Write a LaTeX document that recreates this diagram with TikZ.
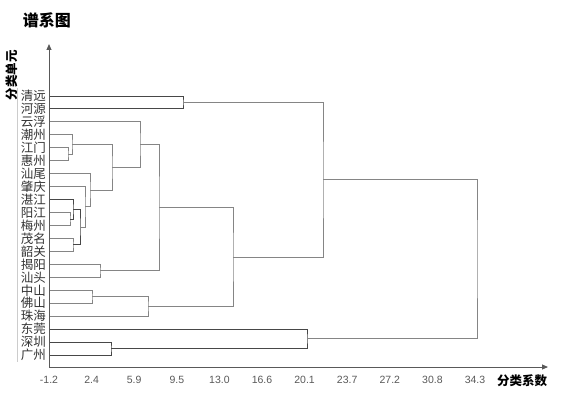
\documentclass[tikz,border=0pt]{standalone}
\usepackage{fontspec}
\setmainfont{Liberation Sans}
\newfontfamily\cjk{Noto Sans CJK SC}
\usetikzlibrary{arrows.meta}

\begin{document}
\begin{tikzpicture}[
    x=1pt, y=-1pt,
    leaf/.style={anchor=east, inner sep=0pt, font=\cjk\fontsize{12.5}{13}\selectfont, text=black!80},
    tick/.style={inner sep=0pt, font=\fontsize{10.5}{12}\selectfont, text=black!65},
    axlab/.style={inner sep=0pt, font=\cjk\bfseries\fontsize{12.5}{13}\selectfont},
    link/.style={draw=black!48, line width=1pt},
    linkd/.style={draw=black!72, line width=1pt},
    axis/.style={draw=black!65, line width=0.9pt},
    >={Triangle[length=6pt,width=5pt]} % 坐标轴箭头
]
    \useasboundingbox (0,0) rectangle (562,396);

    % 标题与坐标轴
    \node[inner sep=0pt, font=\cjk\bfseries\fontsize{16}{16}\selectfont] (title) at (47,20) {谱系图};
    \coordinate (o) at (49,367);
    \coordinate (ytop) at (49,44);
    \coordinate (xend) at (548,367);
    \draw[axis,->] (o) -- (ytop);
    \draw[axis,->] (o) -- (xend);
    \node[axlab, rotate=90] (ylab) at (12,75) {分类单元};
    \node[axlab] (xlab) at (522,381) {分类系数};
    \foreach \v [count=\k from 0] in {-1.2,2.4,5.9,9.5,13.0,16.6,20.1,23.7,27.2,30.8,34.3}
        \node[tick] (t\k) at ({49+42.6*\k},380) {\v};
    \draw[black!20] (17,88) -- (17,362);

    % 分类单元
    \foreach \city [count=\i from 0] in {清远,河源,云浮,潮州,江门,惠州,汕尾,肇庆,湛江,阳江,梅州,茂名,韶关,揭阳,汕头,中山,佛山,珠海,东莞,深圳,广州} {
        \node[leaf] (c\i) at (46,{96+12.95*\i}) {\city};
        \coordinate (p\i) at (50,{96+12.95*\i});
    }

    % 合并点
    \coordinate (qh) at (183,102.5);
    \coordinate (jh) at (68,154.3);
    \coordinate (cz) at (72,144.6);
    \coordinate (ym) at (70,219.0);
    \coordinate (zj) at (73,209.3);
    \coordinate (ms) at (73,244.9);
    \coordinate (zm) at (80,227.1);
    \coordinate (zq) at (85,206.9);
    \coordinate (sw) at (90,190.3);
    \coordinate (cs) at (112,167.5);
    \coordinate (yf) at (140,144.7);
    \coordinate (jy) at (100,270.8);
    \coordinate (ga) at (159,207.8);
    \coordinate (zf) at (92,296.7);
    \coordinate (zh) at (148,306.4);
    \coordinate (gb) at (233,257.1);
    \coordinate (up) at (323,179.8);
    \coordinate (sg) at (111,348.5);
    \coordinate (dg) at (307,338.8);
    \coordinate (top) at (477,259.3);

    \draw[linkd] (p0) -| (qh) |- (p1);
    \draw[link] (p4) -| (jh) |- (p5);
    \draw[link] (p3) -| (cz) |- (jh);
    \draw[link] (p9) -| (ym) |- (p10);
    \draw[linkd] (p8) -| (zj) |- (ym);
    \draw[link] (p11) -| (ms) |- (p12);
    \draw[linkd] (zj) -| (zm) |- (ms);
    \draw[link] (p7) -| (zq) |- (zm);
    \draw[link] (p6) -| (sw) |- (zq);
    \draw[link] (cz) -| (cs) |- (sw);
    \draw[link] (p2) -| (yf) |- (cs);
    \draw[link] (p13) -| (jy) |- (p14);
    \draw[link] (yf) -| (ga) |- (jy);
    \draw[link] (p15) -| (zf) |- (p16);
    \draw[link] (zf) -| (zh) |- (p17);
    \draw[link] (ga) -| (gb) |- (zh);
    \draw[link] (qh) -| (up) |- (gb);
    \draw[linkd] (p19) -| (sg) |- (p20);
    \draw[linkd] (p18) -| (dg) |- (sg);
    \draw[link] (up) -| (top) |- (dg);
\end{tikzpicture}
\end{document}
